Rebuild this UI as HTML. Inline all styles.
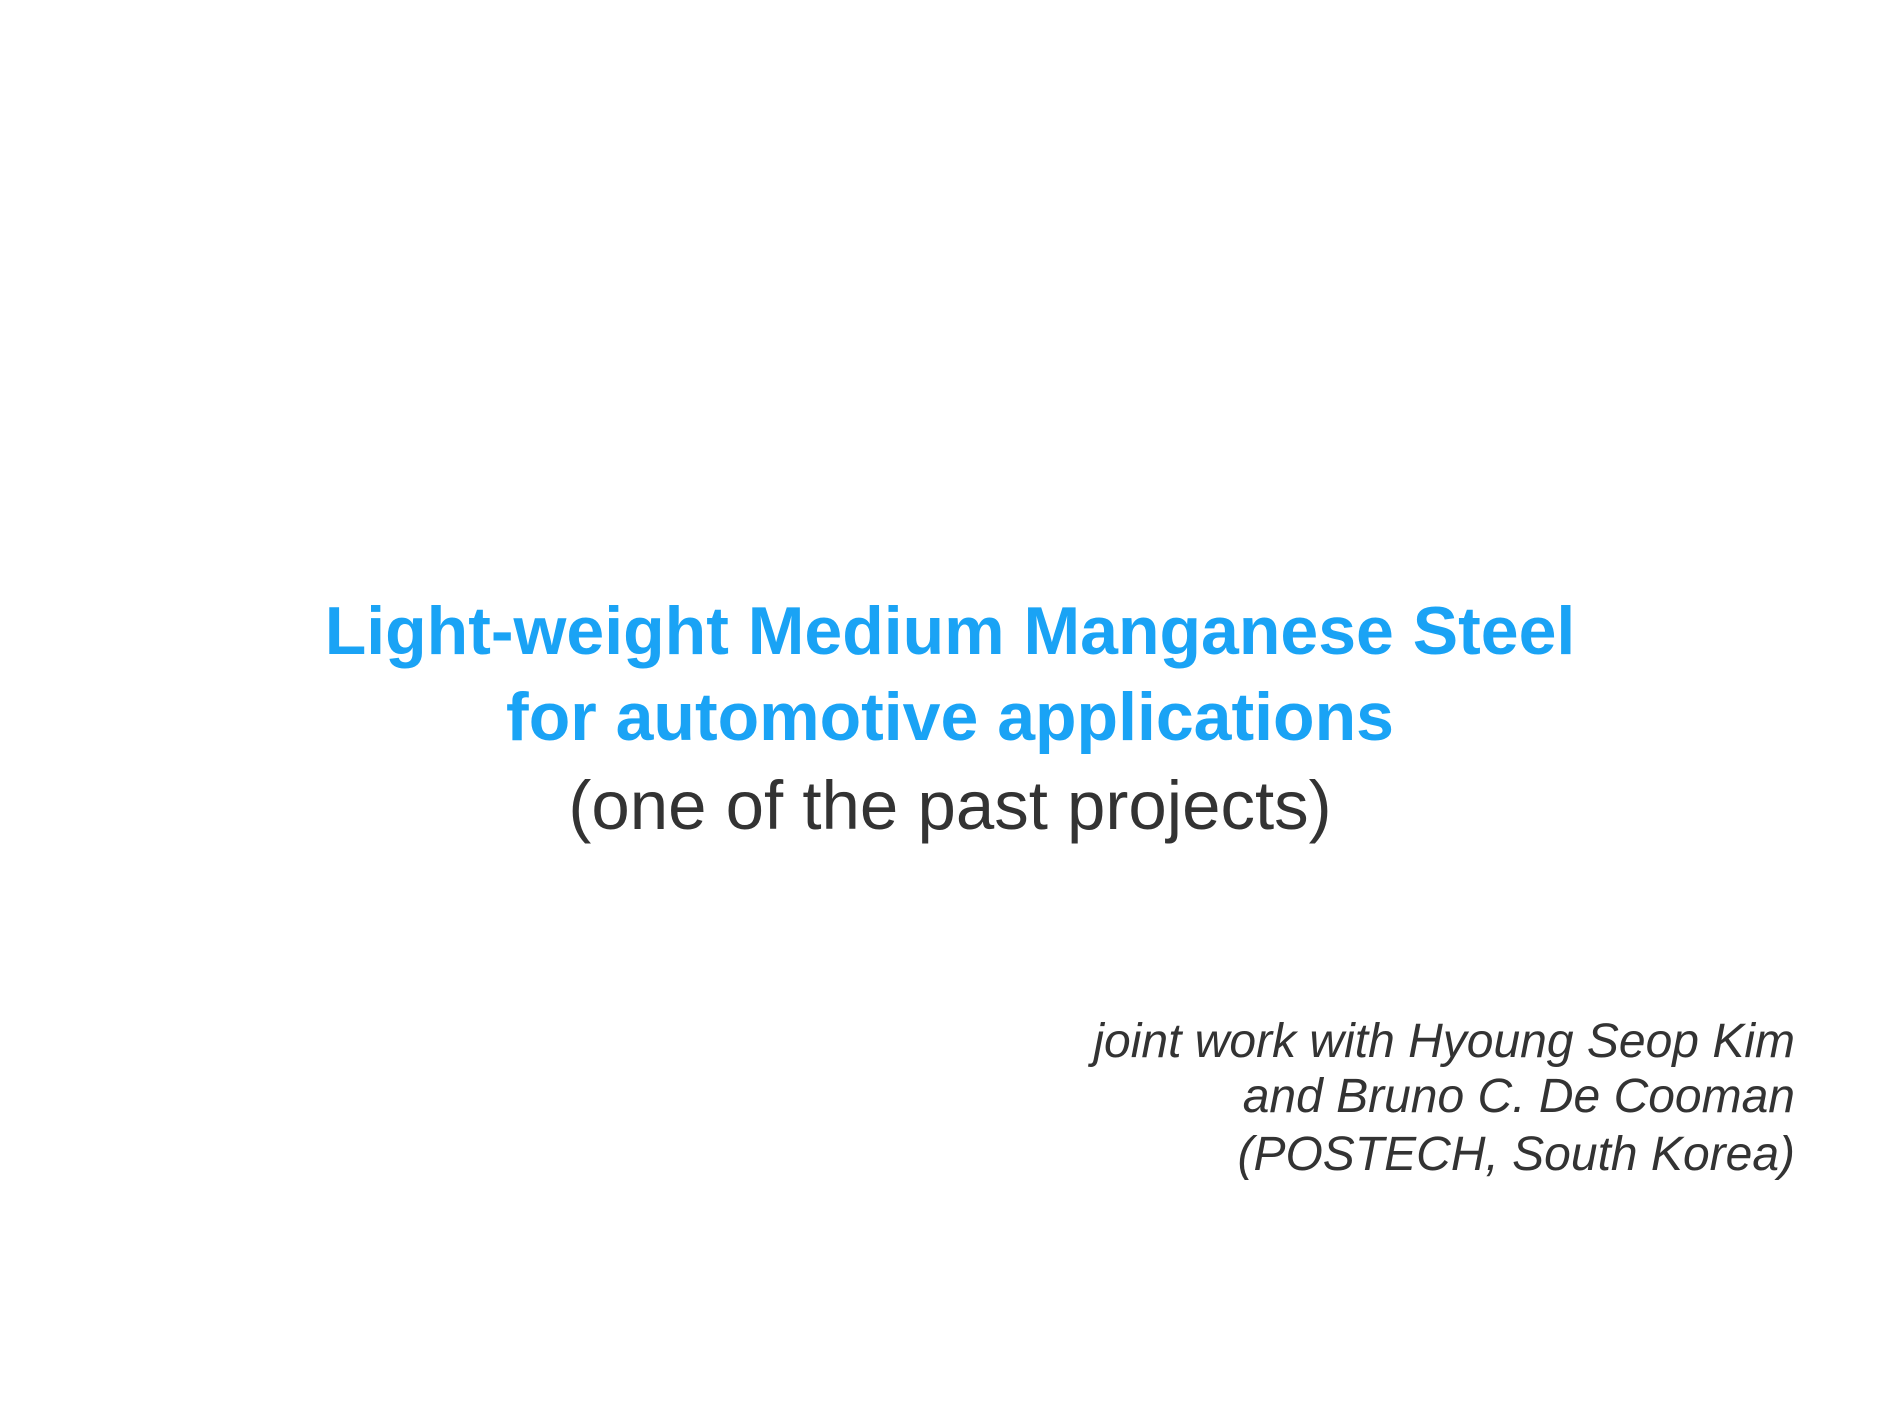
<!DOCTYPE html>
<html>
<head>
<meta charset="utf-8">
<style>
  html, body { margin:0; padding:0; }
  body { width:1900px; height:1425px; background:#fff; position:relative; overflow:hidden; font-family:"Liberation Sans", sans-serif; }
  .c { position:absolute; left:0; width:1900px; text-align:center; line-height:1; white-space:nowrap; }
  .t { color:#1AA3F5; font-weight:bold; font-size:68px; }
  .s { color:#333; font-size:69px; }
  .r { position:absolute; right:105px; text-align:right; font-style:italic; color:#333; font-size:48px; line-height:1; white-space:nowrap; }
</style>
</head>
<body>
  <div class="c t" style="top:597px">Light-weight Medium Manganese Steel</div>
  <div class="c t" style="top:683px">for automotive applications</div>
  <div class="c s" style="top:771px">(one of the past projects)</div>
  <div class="r" style="top:1018px">joint work with Hyoung Seop Kim</div>
  <div class="r" style="top:1073px">and Bruno C. De Cooman</div>
  <div class="r" style="top:1131px">(POSTECH, South Korea)</div>
</body>
</html>
